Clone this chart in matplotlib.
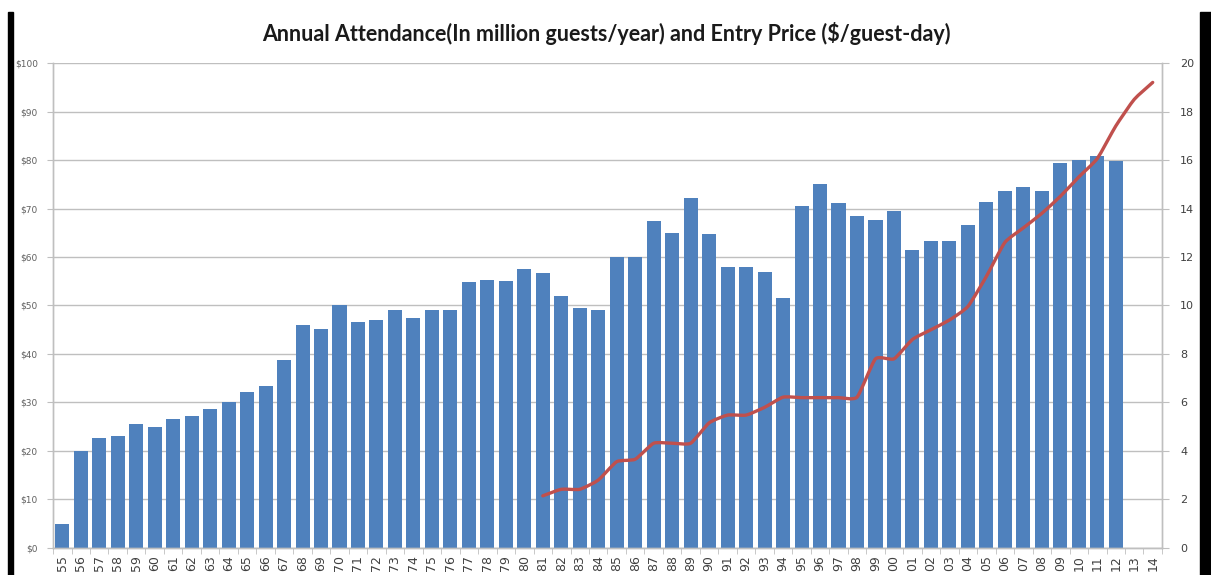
import numpy as np
import matplotlib.pyplot as plt
from matplotlib.path import Path
from matplotlib.patches import PathPatch, Rectangle

# two-digit year labels, 1955 .. 2014
years = ['55', '56', '57', '58', '59', '60', '61', '62', '63', '64',
         '65', '66', '67', '68', '69', '70', '71', '72', '73', '74',
         '75', '76', '77', '78', '79', '80', '81', '82', '83', '84',
         '85', '86', '87', '88', '89', '90', '91', '92', '93', '94',
         '95', '96', '97', '98', '99', '00', '01', '02', '03', '04',
         '05', '06', '07', '08', '09', '10', '11', '12', '13', '14']

# annual attendance, million guests/year (no figures yet for 13, 14)
attendance = [1.0, 4.0, 4.52, 4.63, 5.1, 5.0, 5.3, 5.46, 5.72, 6.0,
              6.45, 6.67, 7.76, 9.18, 9.04, 10.0, 9.3, 9.41, 9.8, 9.5,
              9.8, 9.8, 10.96, 11.05, 11.02, 11.5, 11.33, 10.4, 9.9, 9.8,
              12.0, 12.0, 13.5, 13.0, 14.45, 12.96, 11.58, 11.58, 11.4, 10.3,
              14.1, 15.0, 14.22, 13.7, 13.52, 13.9, 12.27, 12.68, 12.68, 13.32,
              14.28, 14.73, 14.9, 14.73, 15.88, 15.99, 16.15, 15.97]

# entry price, $/guest-day, from 1981 on
price_start = '81'
price = [10.75, 12.1, 12.1, 14.0, 17.8, 18.3, 21.6, 21.6, 21.6, 25.8,
         27.4, 27.4, 29.0, 31.1, 31.0, 31.0, 31.0, 31.1, 39.0, 39.0,
         43.0, 45.0, 47.0, 49.8, 56.0, 63.0, 66.0, 69.0, 72.5, 76.5,
         80.3, 87.0, 92.5, 96.0]

BAR_BLUE = '#4F81BD'
LINE_RED = '#C0504D'
GRID = '#BFBFBF'


def smooth_path(x, y, k=0.09):
    # cubic Bezier through every point, control points from neighbours
    x = np.asarray(x, float)
    y = np.asarray(y, float)
    verts = [(x[0], y[0])]
    codes = [Path.MOVETO]
    n = len(x)
    for i in range(n - 1):
        p0 = np.array([x[max(i - 1, 0)], y[max(i - 1, 0)]])
        p1 = np.array([x[i], y[i]])
        p2 = np.array([x[i + 1], y[i + 1]])
        p3 = np.array([x[min(i + 2, n - 1)], y[min(i + 2, n - 1)]])
        c1 = p1 + (p2 - p0) * k
        c2 = p2 - (p3 - p1) * k
        verts += [tuple(c1), tuple(c2), tuple(p2)]
        codes += [Path.CURVE4] * 3
    return Path(verts, codes)


fig = plt.figure(figsize=(12.11, 5.75), dpi=100)
fig.patch.set_facecolor('white')

ax = fig.add_axes([0.0438, 0.047, 0.9157, 0.8434])
ax_price = ax.twinx()

xs = np.arange(len(years))

# attendance bars (right-hand scale)
ax.bar(xs[:len(attendance)], attendance, width=0.76, color=BAR_BLUE, zorder=2)
ax.set_xlim(-0.5, len(years) - 0.5)
ax.set_ylim(0, 20)
ax.set_yticks(np.arange(0, 21, 2))
ax.yaxis.tick_right()
ax.yaxis.set_label_position('right')
ax.grid(axis='y', color=GRID, linewidth=1.0, zorder=0)
ax.set_axisbelow(True)

# category ticks sit between bars, labels under each bar
ax.set_xticks(xs)
ax.set_xticklabels(years, rotation=90, fontsize=9, color='#404040')
ax.set_xticks(np.arange(-0.5, len(years), 1), minor=True)
ax.tick_params(axis='x', which='major', length=0, pad=5)
ax.tick_params(axis='x', which='minor', length=4, color=GRID)
ax.tick_params(axis='y', length=5, color=GRID, labelsize=8, labelcolor='#404040', pad=8)

# entry price line (left-hand scale)
i0 = years.index(price_start)
px = xs[i0:i0 + len(price)]
ax_price.add_patch(PathPatch(smooth_path(px, price), facecolor='none',
                             edgecolor=LINE_RED, linewidth=2.4,
                             capstyle='round', joinstyle='round'))
ax_price.set_ylim(0, 100)
ax_price.set_yticks(np.arange(0, 101, 10))
ax_price.set_yticklabels(['$%d' % v for v in range(0, 101, 10)])
ax_price.yaxis.tick_left()
ax_price.yaxis.set_label_position('left')
ax_price.tick_params(axis='y', length=4, color=GRID, labelsize=6.5,
                     labelcolor='#606060', pad=7)

for a in (ax, ax_price):
    a.spines['top'].set_visible(False)
    for s in ('left', 'right', 'bottom'):
        a.spines[s].set_color(GRID)
        a.spines[s].set_linewidth(1.0)

fig.text(0.501, 0.942, 'Annual Attendance(In million guests/year) and Entry Price ($/guest-day)',
         ha='center', va='center', fontsize=15.5, fontweight='bold',
         family='Lato', color='#1a1a1a')

# dark frame edges at the sides
W, H = 1211, 575
fig.add_artist(Rectangle((8 / W, 0), 5 / W, 1 - 12 / H, transform=fig.transFigure,
                         color='black', zorder=10))
fig.add_artist(Rectangle((1200 / W, 0), 11 / W, 1 - 12 / H, transform=fig.transFigure,
                         color='black', zorder=10))

fig.savefig('out.png', dpi=100)
